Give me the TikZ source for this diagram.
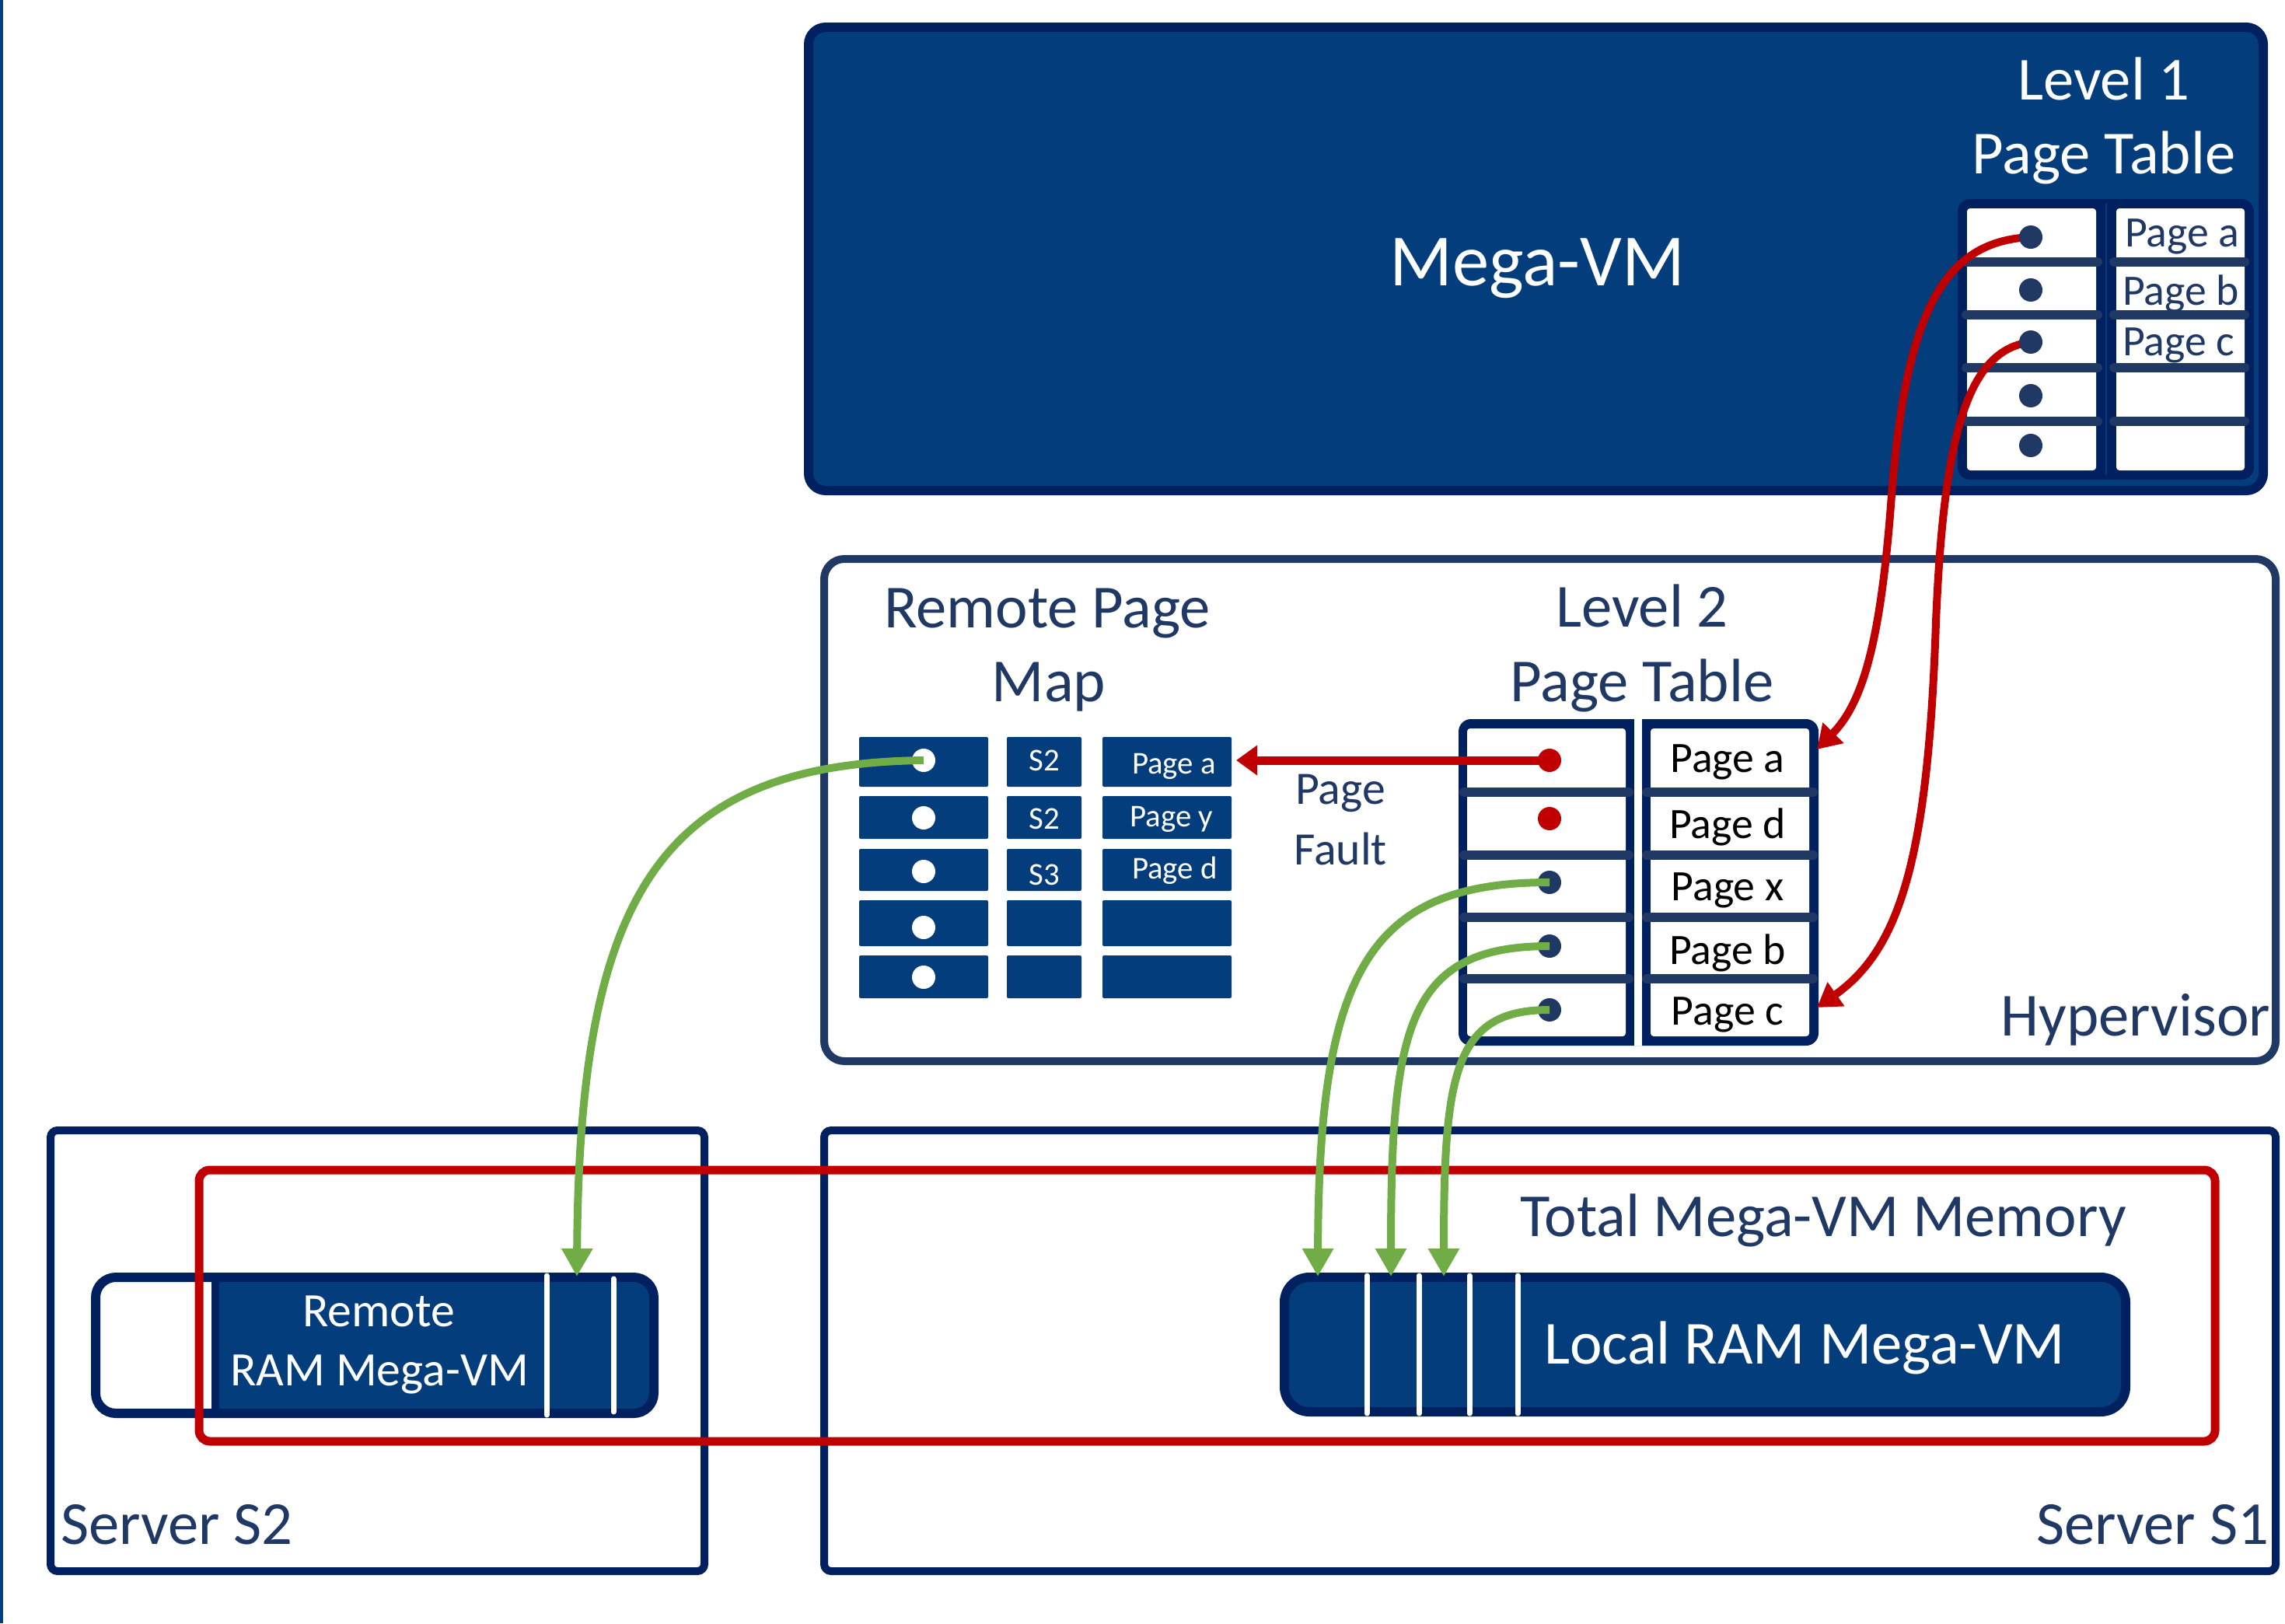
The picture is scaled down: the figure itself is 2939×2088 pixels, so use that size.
\documentclass[tikz,border=0pt]{standalone}
\usepackage{fontspec}
\setmainfont{Carlito}
\usetikzlibrary{arrows.meta}

\definecolor{vmfill}{RGB}{3,61,124}
\definecolor{vmedge}{RGB}{0,32,96}
\definecolor{ink}{RGB}{32,56,100}
\definecolor{fault}{RGB}{192,0,0}
\definecolor{leaf}{RGB}{112,173,71}
\definecolor{rail}{RGB}{3,64,128}

\begin{document}
\begin{tikzpicture}[x=1bp,y=-1bp,
  box/.style={inner sep=0pt, outer sep=0pt, anchor=north west},
  txt/.style={inner sep=0pt, outer sep=0pt, anchor=base, text=ink},
  fhuge/.style={font=\fontsize{95}{114}\selectfont},
  fbig/.style={font=\fontsize{79}{95}\selectfont},
  fmid/.style={font=\fontsize{62}{74}\selectfont},
  fpf/.style={font=\fontsize{60}{72}\selectfont},
  fsml/.style={font=\fontsize{56}{67}\selectfont},
  ftiny/.style={font=\fontsize{41}{49}\selectfont},
  sep/.style={line width=12bp, draw=ink, line cap=round},
  dot/.style={circle, inner sep=0pt, outer sep=0pt, minimum size=30bp, fill=ink},
  cell/.style={box, fill=vmfill, rounded corners=2bp},
  frame/.style={draw=vmedge, line width=10bp, rounded corners=9bp},
  slot/.style={draw=white, line width=7bp, line cap=round},
  redlink/.style={draw=fault, line width=10bp, -{Triangle[length=30bp,width=36bp]}},
  greenlink/.style={draw=leaf, line width=10bp, -{Triangle[length=36bp,width=38bp]}},
]
\useasboundingbox (0,0) rectangle (2939,2088);
\fill[white] (0,0) rectangle (2939,2088);
\fill[rail] (0,0) rectangle (4,2088);

% ---------------- Mega-VM with its level 1 page table
\node[box, draw=vmedge, fill=vmfill, line width=12bp, rounded corners=22bp,
      minimum width=1871bp, minimum height=596bp] (megavm) at (1040,35) {};
\node[txt, text=white, fhuge] (megalbl) at (1977,367) {Mega-VM};
\node[txt, text=white, fbig] (l1title1) at (2706,128) {Level 1};
\node[txt, text=white, fbig] (l1title2) at (2706,223) {Page Table};

\node[box, fill=vmedge, rounded corners=16bp, minimum width=381bp, minimum height=361bp] (l1tab) at (2518,256) {};
\node[box, fill=white, rounded corners=4bp, minimum width=166bp, minimum height=337bp] (l1left) at (2530,268) {};
\node[box, fill=white, rounded corners=4bp, minimum width=165bp, minimum height=337bp] (l1right) at (2722,268) {};
\draw[vmfill, line width=2bp] (2709,262) -- (2709,611);
\foreach \y in {337,405,473,542} {
  \draw[sep] (2529,\y) -- (2698,\y);
  \draw[sep] (2719,\y) -- (2887,\y);
}
\node[txt, anchor=base west, fsml] (l1pa) at (2733,317) {Page a};
\node[txt, anchor=base west, fsml] (l1pb) at (2730,392) {Page b};
\node[txt, anchor=base west, fsml] (l1pc) at (2730,457) {Page c};
\coordinate (l1a) at (2612,305);
\coordinate (l1b) at (2612,373);
\coordinate (l1c) at (2612,440);
\coordinate (l1d) at (2612,509);
\coordinate (l1e) at (2612,573);

% ---------------- Hypervisor
\node[box, draw=ink, line width=10bp, rounded corners=26bp,
      minimum width=1867bp, minimum height=646bp] (hyper) at (1060,719) {};
\node[txt, anchor=base east, fbig] (hyperlbl) at (2920,1332) {Hypervisor};
\node[txt, fbig] (rpmt1) at (1347,807) {Remote Page};
\node[txt, fbig] (rpmt2) at (1349,902) {Map};
\node[txt, fbig] (l2t1) at (2112,806) {Level 2};
\node[txt, fbig] (l2t2) at (2112,902) {Page Table};

% remote page map
\foreach \r/\top/\h in {1/948/64, 2/1024/55, 3/1092/54, 4/1158/59, 5/1229/55} {
  \node[cell, minimum width=166bp, minimum height=\h bp] (c\r1) at (1105,\top) {};
  \node[cell, minimum width=96bp,  minimum height=\h bp] (c\r2) at (1295,\top) {};
  \node[cell, minimum width=166bp, minimum height=\h bp] (c\r3) at (1418,\top) {};
}
\node[dot, fill=white] (rpa) at (1188,978) {};
\node[dot, fill=white] (rpb) at (1188,1052) {};
\node[dot, fill=white] (rpc) at (1188,1121) {};
\node[dot, fill=white] (rpd) at (1188,1193) {};
\node[dot, fill=white] (rpe) at (1188,1257) {};
\node[txt, text=white, ftiny] (sa) at (1343,991) {S2};
\node[txt, text=white, ftiny] (sb) at (1343,1066) {S2};
\node[txt, text=white, ftiny] (sc) at (1343,1138) {S3};
\node[txt, text=white, ftiny] (pga) at (1510,995) {Page a};
\node[txt, text=white, ftiny] (pgy) at (1507,1063) {Page y};
\node[txt, text=white, ftiny] (pgd) at (1511,1130) {Page d};

% level 2 page table
\node[box, fill=vmedge, rounded corners=16bp, minimum width=463bp, minimum height=420bp] (l2tab) at (1876,925) {};
\fill[white] (2102,925) rectangle (2112,1345);
\node[box, fill=white, rounded corners=4bp, minimum width=204bp, minimum height=396bp] (l2left) at (1887,937) {};
\node[box, fill=white, rounded corners=4bp, minimum width=204bp, minimum height=396bp] (l2right) at (2123,937) {};
\foreach \y in {1019,1100,1180,1259} {
  \draw[sep] (1883,\y) -- (2095,\y);
  \draw[sep] (2118,\y) -- (2332,\y);
}
\node[txt, text=black, fsml] (l2pa) at (2222,993) {Page a};
\node[txt, text=black, fsml] (l2pd) at (2222,1078) {Page d};
\node[txt, text=black, fsml] (l2px) at (2222,1158) {Page x};
\node[txt, text=black, fsml] (l2pb) at (2222,1240) {Page b};
\node[txt, text=black, fsml] (l2pc) at (2222,1318) {Page c};
\node[txt, fpf] (pf1) at (1724,1034) {Page};
\node[txt, fpf] (pf2) at (1724,1112) {Fault};

% ---------------- Servers and memory
\node[box, frame, minimum width=841bp, minimum height=567bp] (srv2) at (65,1454) {};
\node[box, frame, minimum width=1867bp, minimum height=567bp] (srv1) at (1060,1454) {};
\node[txt, anchor=base west, fbig] (srv2lbl) at (78,1986) {Server S2};
\node[txt, anchor=base east, fbig] (srv1lbl) at (2918,1986) {Server S1};

% remote RAM
\begin{scope}
  \clip[rounded corners=26bp] (123,1643) rectangle (841,1818);
  \fill[white] (123,1643) rectangle (272,1818);
  \fill[vmfill] (272,1643) rectangle (841,1818);
\end{scope}
\draw[vmedge, line width=10bp] (277,1643) -- (277,1818);
\node[box, draw=vmedge, line width=12bp, rounded corners=26bp,
      minimum width=718bp, minimum height=175bp] (rram) at (123,1643) {};
\draw[slot] (703,1641) -- (703,1820);
\draw[slot] (789,1645) -- (789,1816);
\node[txt, text=white, fmid] (rram1) at (487,1706) {Remote};
\node[txt, text=white, fmid] (rram2) at (488,1782) {RAM Mega-VM};

% local RAM
\node[box, draw=vmedge, fill=vmfill, line width=12bp, rounded corners=32bp,
      minimum width=1082bp, minimum height=173bp] (lram) at (1652,1643) {};
\foreach \x in {1758,1825,1890,1952} \draw[slot] (\x,1641) -- (\x,1818);
\node[txt, anchor=base west, text=white, fbig] (lramlbl) at (1986,1754) {Local RAM Mega-VM};

% total memory outline
\node[box, draw=fault, line width=11bp, rounded corners=14bp,
      minimum width=2593bp, minimum height=349bp] (total) at (256,1505) {};
\node[txt, fbig] (totallbl) at (2345,1590) {Total Mega-VM Memory};

% ---------------- connectors
\coordinate (pfTip) at (1590,978);
\coordinate (tipA) at (2337,964);
\coordinate (tipC) at (2337,1296);
\coordinate (tipR) at (742,1642);
\coordinate (tipX) at (1695,1642);
\coordinate (tipB) at (1789,1642);
\coordinate (tipCc) at (1857,1642);

\node[dot, fill=fault] (l2a) at (1993,978) {};
\node[dot, fill=fault] (l2d) at (1993,1053) {};
\node[dot] (l2x) at (1993,1135) {};
\node[dot] (l2b) at (1993,1217) {};
\node[dot] (l2c) at (1993,1299) {};

\draw[fault, line width=11bp, -{Triangle[length=27bp,width=37bp]}] (l2a.center) -- (pfTip);

\draw[redlink] (l1a) .. controls (2500,310) and (2450,400) .. (2432,650)
  .. controls (2418,830) and (2395,905) .. (tipA);
\draw[redlink] (l1c) .. controls (2530,450) and (2500,560) .. (2490,800)
  .. controls (2480,1100) and (2445,1220) .. (tipC);

\node[dot] (l1da) at (l1a) {};
\node[dot] (l1db) at (l1b) {};
\node[dot] (l1dc) at (l1c) {};
\node[dot] (l1dd) at (l1d) {};
\node[dot] (l1de) at (l1e) {};

\draw[greenlink] (rpa.center) .. controls (850,982) and (745,1150) .. (tipR);
\draw[greenlink] (l2x.center) .. controls (1760,1135) and (1696,1250) .. (tipX);
\draw[greenlink] (l2b.center) .. controls (1810,1217) and (1789,1320) .. (tipB);
\draw[greenlink] (l2c.center) .. controls (1870,1299) and (1857,1380) .. (tipCc);
\end{tikzpicture}
\end{document}
